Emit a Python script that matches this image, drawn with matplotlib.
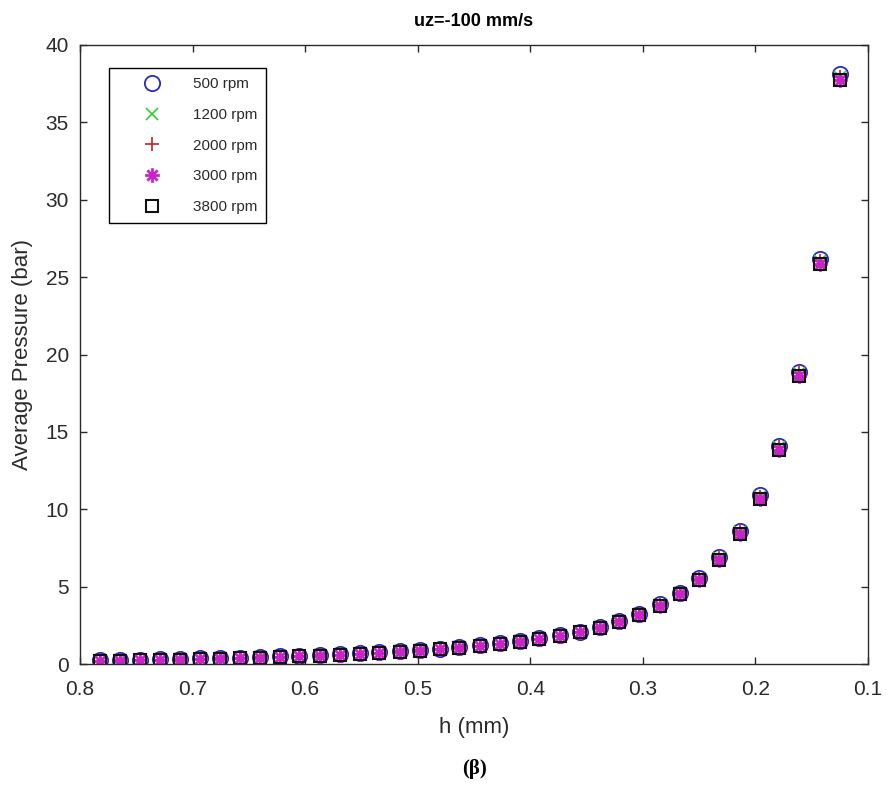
import matplotlib
matplotlib.use("Agg")
import matplotlib.pyplot as plt
from matplotlib.path import Path

# ---- data ----
h_mm = [0.782, 0.764, 0.747, 0.729, 0.711, 0.693, 0.676, 0.658, 0.640, 0.622,
        0.605, 0.587, 0.569, 0.551, 0.534, 0.516, 0.498, 0.480, 0.463, 0.445,
        0.427, 0.409, 0.392, 0.374, 0.356, 0.338, 0.321, 0.303, 0.285, 0.267,
        0.250, 0.232, 0.214, 0.196, 0.179, 0.161, 0.143, 0.125]

p_500 = [0.24, 0.26, 0.28, 0.31, 0.33, 0.36, 0.39, 0.42, 0.46, 0.50,
         0.54, 0.59, 0.64, 0.70, 0.77, 0.84, 0.92, 1.00, 1.10, 1.21,
         1.34, 1.49, 1.66, 1.86, 2.10, 2.40, 2.78, 3.25, 3.85, 4.62,
         5.58, 6.90, 8.60, 10.90, 14.10, 18.90, 26.20, 38.10]
p_1200 = [0.21, 0.23, 0.25, 0.28, 0.30, 0.33, 0.36, 0.39, 0.43, 0.47,
          0.51, 0.56, 0.61, 0.67, 0.74, 0.81, 0.89, 0.97, 1.07, 1.18,
          1.31, 1.46, 1.63, 1.83, 2.07, 2.37, 2.75, 3.21, 3.80, 4.56,
          5.52, 6.82, 8.50, 10.80, 14.00, 18.80, 26.05, 37.95]
p_2000 = [0.21, 0.23, 0.25, 0.28, 0.30, 0.33, 0.36, 0.39, 0.43, 0.47,
          0.51, 0.56, 0.61, 0.67, 0.74, 0.81, 0.89, 0.97, 1.07, 1.18,
          1.31, 1.46, 1.63, 1.83, 2.07, 2.37, 2.75, 3.21, 3.80, 4.56,
          5.52, 6.82, 8.50, 10.80, 14.00, 18.80, 26.05, 37.95]
p_3000 = [0.19, 0.21, 0.23, 0.26, 0.28, 0.31, 0.34, 0.37, 0.41, 0.45,
          0.49, 0.54, 0.59, 0.65, 0.72, 0.79, 0.87, 0.95, 1.05, 1.16,
          1.29, 1.44, 1.61, 1.81, 2.05, 2.34, 2.72, 3.18, 3.76, 4.50,
          5.45, 6.72, 8.38, 10.65, 13.85, 18.62, 25.85, 37.75]
p_3800 = [0.19, 0.21, 0.23, 0.26, 0.28, 0.31, 0.34, 0.37, 0.41, 0.45,
          0.49, 0.54, 0.59, 0.65, 0.72, 0.79, 0.87, 0.95, 1.05, 1.16,
          1.29, 1.44, 1.61, 1.81, 2.05, 2.34, 2.72, 3.18, 3.76, 4.50,
          5.45, 6.72, 8.38, 10.65, 13.85, 18.62, 25.85, 37.75]

labels = ["500 rpm", "1200 rpm", "2000 rpm", "3000 rpm", "3800 rpm"]
x_ticks = [0.8, 0.7, 0.6, 0.5, 0.4, 0.3, 0.2, 0.1]
y_ticks = [0, 5, 10, 15, 20, 25, 30, 35, 40]

plt.rcParams['font.family'] = ['Liberation Sans', 'DejaVu Sans']

# asterisk marker (MATLAB style '*')
ast = Path([(0, -1), (0, 1), (-1, 0), (1, 0),
            (-0.707, -0.707), (0.707, 0.707), (-0.707, 0.707), (0.707, -0.707)],
           [Path.MOVETO, Path.LINETO] * 4)

fig = plt.figure(figsize=(8.88, 7.85), dpi=100)
ax = fig.add_axes([0.090, 0.1541, 0.8875, 0.7886])

axc = '#2b2b2b'
ax.plot(h_mm, p_500, linestyle='none', marker='o', ms=11, mfc='none',
        mec='#2a2ac0', mew=1.3, label=labels[0])
ax.plot(h_mm, p_1200, linestyle='none', marker='x', ms=8, mec='#33cc33',
        mew=1.2, label=labels[1])
ax.plot(h_mm, p_2000, linestyle='none', marker='+', ms=10.5, mec='#c81e1e',
        mew=1.2, label=labels[2])
ax.plot(h_mm, p_3000, linestyle='none', marker=ast, ms=10.5, mfc='none',
        mec='#cc22cc', mew=2.0, label=labels[3])
ax.plot(h_mm, p_3800, linestyle='none', marker='s', ms=9, mfc='none',
        mec='#111111', mew=1.5, label=labels[4])

ax.set_xlim(0.8, 0.1)
ax.set_ylim(0, 40)
ax.set_xticks(x_ticks)
ax.set_xticklabels([str(v) for v in x_ticks])
ax.set_yticks(y_ticks)
ax.tick_params(direction='in', length=5, width=1, colors=axc,
               labelcolor=axc, labelsize=15, top=True, right=True)
ax.tick_params(axis='x', pad=11.5)
ax.tick_params(axis='y', pad=8)
for s in ax.spines.values():
    s.set_color(axc)
    s.set_linewidth(1.0)

ax.set_title("uz=-100 mm/s", fontsize=13, fontweight='bold', color='black', pad=14)
ax.set_xlabel("h (mm)", fontsize=16, color=axc, labelpad=13)
ax.set_ylabel("Average Pressure (bar)", fontsize=16, color=axc, labelpad=9)

leg = ax.legend(loc='upper left', bbox_to_anchor=(0.0368, 0.963),
                borderaxespad=0, fancybox=False, edgecolor='black',
                fontsize=11, handletextpad=0.5, labelspacing=1.1,
                borderpad=0.6, handlelength=4.4, framealpha=1)
leg.get_frame().set_linewidth(1.0)
for t in leg.get_texts():
    t.set_color(axc)

fig.text(0.534, 0.021, "(β)", ha='center', va='center', fontsize=15,
         fontweight='bold', family=['Liberation Serif', 'DejaVu Serif'])

fig.savefig("out.png", dpi=100)
